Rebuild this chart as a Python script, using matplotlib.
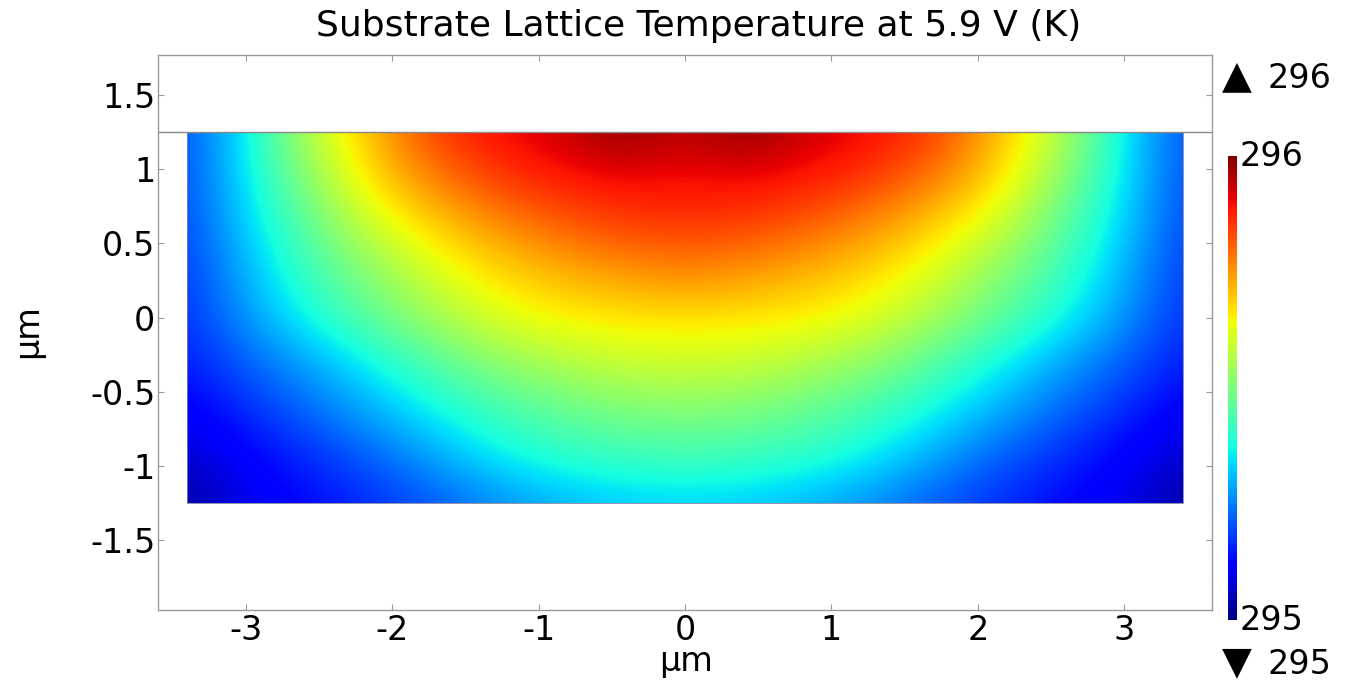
import numpy as np
import matplotlib
matplotlib.use('Agg')
from matplotlib import pyplot as plt
from matplotlib.patches import Rectangle

plt.rcParams['axes.unicode_minus'] = False

# sample positions (um) of the temperature field
x_pts = [-3.4, -2.975, -2.55, -2.125, -1.7, -1.275, -0.85, -0.425, 0.0,
         0.425, 0.85, 1.275, 1.7, 2.125, 2.55, 2.975, 3.4]
y_pts = [1.25, 0.9375, 0.625, 0.3125, 0.0, -0.3125, -0.625, -0.9375, -1.25]

# lattice temperature (K), rows from top (y=1.25) to bottom (y=-1.25)
temp_rows = [
    [295.20, 295.37, 295.58, 295.72, 295.85, 295.90, 295.93, 295.99, 295.94, 295.99, 295.93, 295.90, 295.85, 295.72, 295.58, 295.37, 295.20],
    [295.20, 295.36, 295.53, 295.68, 295.78, 295.85, 295.885, 295.90, 295.895, 295.90, 295.885, 295.85, 295.78, 295.68, 295.53, 295.36, 295.20],
    [295.19, 295.34, 295.47, 295.61, 295.69, 295.76, 295.81, 295.845, 295.85, 295.845, 295.81, 295.76, 295.69, 295.61, 295.47, 295.34, 295.19],
    [295.18, 295.31, 295.43, 295.52, 295.62, 295.68, 295.72, 295.75, 295.77, 295.75, 295.72, 295.68, 295.62, 295.52, 295.43, 295.31, 295.18],
    [295.17, 295.28, 295.38, 295.47, 295.55, 295.62, 295.655, 295.665, 295.67, 295.665, 295.655, 295.62, 295.55, 295.47, 295.38, 295.28, 295.17],
    [295.15, 295.22, 295.29, 295.37, 295.45, 295.52, 295.56, 295.59, 295.60, 295.59, 295.56, 295.52, 295.45, 295.37, 295.29, 295.22, 295.15],
    [295.11, 295.17, 295.23, 295.30, 295.37, 295.43, 295.47, 295.50, 295.51, 295.50, 295.47, 295.43, 295.37, 295.30, 295.23, 295.17, 295.11],
    [295.07, 295.12, 295.17, 295.22, 295.29, 295.36, 295.40, 295.42, 295.43, 295.42, 295.40, 295.36, 295.29, 295.22, 295.17, 295.12, 295.07],
    [295.03, 295.10, 295.13, 295.17, 295.21, 295.26, 295.30, 295.32, 295.33, 295.32, 295.30, 295.26, 295.21, 295.17, 295.13, 295.10, 295.03],
]

t_min, t_max = 295, 296
x_ticks = [-3, -2, -1, 0, 1, 2, 3]
y_ticks = [-1.5, -1, -0.5, 0, 0.5, 1, 1.5]
y_tick_labels = ['-1.5', '-1', '-0.5', '0', '0.5', '1', '1.5']

grey = '#9a9a9a'
fs = 24

fig = plt.figure(figsize=(13.48, 6.81), dpi=100)
ax = fig.add_axes([158 / 1348, 1 - 610 / 681, 1054 / 1348, 555 / 681])

temp = np.array(temp_rows)
dx = (x_pts[-1] - x_pts[0]) / (len(x_pts) - 1)
dy = (y_pts[0] - y_pts[-1]) / (len(y_pts) - 1)
im = ax.imshow(temp, cmap='jet', vmin=t_min, vmax=t_max, aspect='auto',
               interpolation='bicubic', origin='upper',
               extent=(x_pts[0] - dx / 2, x_pts[-1] + dx / 2,
                       y_pts[-1] - dy / 2, y_pts[0] + dy / 2))
clip = Rectangle((x_pts[0], y_pts[-1]), x_pts[-1] - x_pts[0], y_pts[0] - y_pts[-1],
                 transform=ax.transData)
im.set_clip_path(clip)
ax.add_patch(Rectangle((x_pts[0], y_pts[-1]), x_pts[-1] - x_pts[0], y_pts[0] - y_pts[-1],
                       fill=False, edgecolor='#8080a0', lw=0.6))
ax.axhline(y_pts[0], color='#888888', lw=1)

ax.set_xlim(-3.6, 3.6)
ax.set_ylim(-1.97, 1.77)
ax.set_xticks(x_ticks)
ax.set_yticks(y_ticks)
ax.set_yticklabels(y_tick_labels)
ax.tick_params(direction='in', length=4, color=grey, top=True, right=True,
               labelsize=fs)
ax.tick_params(axis='x', pad=3)
ax.tick_params(axis='y', pad=2)
for s in ax.spines.values():
    s.set_color(grey)
    s.set_linewidth(1)

fig.text(699 / 1348, 1 - 26 / 681, 'Substrate Lattice Temperature at 5.9 V (K)',
         ha='center', va='center', fontsize=26)
fig.text(686 / 1348, 1 - 662 / 681, 'µm', ha='center', va='center', fontsize=fs)
fig.text(28 / 1348, 1 - 331 / 681, 'µm', ha='center', va='center', fontsize=fs,
         rotation=90)

# colour legend
cax = fig.add_axes([1228 / 1348, 1 - 620 / 681, 9 / 1348, 464 / 681])
cb = fig.colorbar(im, cax=cax, ticks=[])
cb.outline.set_visible(False)
fig.text(1240 / 1348, 1 - 157 / 681, '296', ha='left', va='center', fontsize=fs)
fig.text(1240 / 1348, 1 - 621 / 681, '295', ha='left', va='center', fontsize=fs)
fig.text(1237 / 1348, 1 - 76 / 681, '▲', ha='center', va='center', fontsize=28)
fig.text(1268 / 1348, 1 - 78 / 681, '296', ha='left', va='center', fontsize=fs)
fig.text(1237 / 1348, 1 - 662 / 681, '▼', ha='center', va='center', fontsize=28)
fig.text(1268 / 1348, 1 - 664 / 681, '295', ha='left', va='center', fontsize=fs)

fig.savefig('out.png', dpi=100)
